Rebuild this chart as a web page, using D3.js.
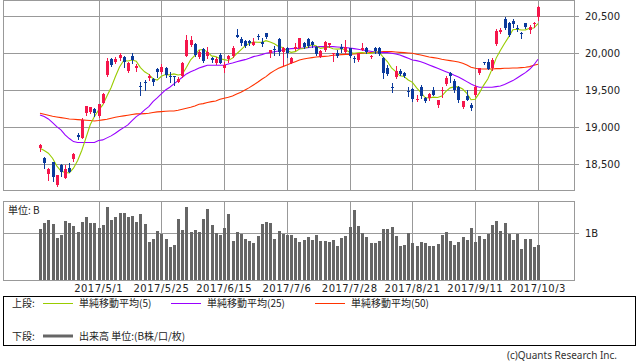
<!DOCTYPE html>
<html>
<head>
<meta charset="utf-8">
<script src="https://cdn.jsdelivr.net/npm/d3@7"></script>
<style>
	body { margin: 0; background: #fff; }
	text { font-family: "DejaVu Sans", "Noto Sans CJK JP", sans-serif; font-size: 10px; fill: #222; }
	.jp { font-family: "Noto Sans CJK JP", sans-serif; }
</style>
</head>
<body>
<svg id="chart" width="638" height="362"></svg>
<script>
// trading days shown, by month
const tradingDays = [
	['4', [11, 12, 13, 14, 17, 18, 19, 20, 21, 24, 25, 26, 27, 28]],
	['5', [1, 2, 8, 9, 10, 11, 12, 15, 16, 17, 18, 19, 22, 23, 24, 25, 26, 29, 30, 31]],
	['6', [1, 2, 5, 6, 7, 8, 9, 12, 13, 14, 15, 16, 19, 20, 21, 22, 23, 26, 27, 28, 29, 30]],
	['7', [3, 4, 5, 6, 7, 10, 11, 12, 13, 14, 18, 19, 20, 21, 24, 25, 26, 27, 28, 31]],
	['8', [1, 2, 3, 4, 7, 8, 9, 10, 14, 15, 16, 17, 18, 21, 22, 23, 24, 25, 28, 29, 30, 31]],
	['9', [1, 4, 5, 6, 7, 8, 11, 12, 13, 14, 15, 19, 20, 21, 22, 25, 26, 27, 28, 29]],
	['10', [2, 3]]
];
const dates = tradingDays.flatMap(([m, days]) => days.map(d => `2017/${m}/${d}`));
const dateTicks = ['2017/5/1', '2017/5/25', '2017/6/15', '2017/7/6', '2017/7/28', '2017/8/21', '2017/9/11', '2017/10/3'];
const priceTicks = [18500, 19000, 19500, 20000, 20500];
const volumeTicks = [1];

const open = [18716,18587,18367,18524,18218,18488,18317,18452,18569,18898, 18857,19186,19195,19244,19141,19330,19699,19915,19879,19937, 19946,19748,19960,19802,19559,19604,19663,19649,19780,19735, 19793,19690,19686,19618,19681,19964,20108,20122,19951,20050, 19960,19928,19861,19973,19793,19915,19960,20243,20189,20167, 20162,20117,20225,20153,20266,20005,20050,20189,20005,20063, 19861,20059,20072,20140,20185,20153,20086,19951,20041,20099, 19982,19996,20086,20018,20063,19933,19897,20041,20072,19942, 20063,20072,19937,19802,19541,19672,19762,19726,19483,19510, 19375,19537,19388,19388,19501,19298,19496,19577,19726,19627, 19537,19276,19424,19298,19433,19726,19874,19883,19793,20122, 20288,20455,20410,20437,20333,20266,20401,20311,20396,20482];
const high = [18765,18601,18452,18530,18353,18497,18488,18511,18655,18925, 19118,19285,19276,19262,19316,19465,19928,19928,19951,19996, 19960,19874,20005,19847,19613,19636,19717,19667,19793,19847, 19816,19748,19690,19681,19883,20243,20230,20131,20041,20063, 20086,19942,19942,20005,19883,19973,20095,20320,20212,20176, 20176,20198,20252,20198,20275,20041,20095,20198,20086,20086, 19942,20131,20207,20153,20198,20167,20095,20041,20167,20140, 20005,20041,20122,20176,20063,19960,20005,20131,20086,19973, 20086,20086,19951,19838,19591,19825,19784,19748,19537,19523, 19433,19568,19411,19456,19537,19366,19537,19690,19748,19645, 19555,19357,19501,19330,19568,19802,19883,19915,19928,20320, 20333,20482,20423,20459,20378,20288,20410,20378,20423,20635];
const low = [18671,18452,18286,18272,18209,18340,18317,18389,18542,18835, 18857,19163,19186,19150,19141,19321,19690,19825,19861,19906, 19816,19740,19861,19757,19433,19501,19636,19568,19681,19726, 19672,19613,19568,19604,19672,19964,20099,19960,19928,19879, 19928,19884,19852,19861,19748,19883,19951,20221,20108,20086, 20108,20108,20185,20095,20207,19942,19973,19973,19838,19942, 19861,20041,20063,20063,20086,20086,19973,19942,20032,20086, 19892,19942,20018,19996,19942,19884,19897,20041,19996,19933, 19996,19973,19658,19703,19478,19658,19703,19672,19424,19357, 19357,19388,19343,19366,19433,19267,19411,19568,19613,19478, 19343,19253,19366,19231,19420,19717,19852,19784,19771,20108, 20266,20324,20234,20356,20302,20207,20333,20275,20356,20446];
const close = [18752,18524,18430,18317,18353,18398,18434,18398,18632,18871, 19096,19285,19267,19186,19307,19447,19892,19834,19915,19973, 19874,19861,19906,19825,19550,19590,19690,19604,19735,19807, 19703,19672,19672,19654,19861,20176,20176,19973,20018,19892, 20018,19906,19919,19870,19838,19960,20063,20221,20131,20099, 20131,20153,20216,20122,20212,20041,20041,20018,20063,19996, 19928,20086,20203,20086,20095,20108,19987,20032,20144,20131, 19996,19960,20054,20086,19951,19928,19996,20072,20018,19960, 20018,19996,19735,19717,19532,19757,19717,19690,19478,19375, 19384,19411,19343,19442,19433,19366,19505,19658,19681,19501, 19366,19357,19366,19253,19537,19793,19865,19793,19906,20297, 20311,20333,20243,20392,20320,20261,20347,20356,20401,20617];
// 出来高 (B)
const volume = [1.09,1.21,1.29,1.19,0.89,0.96,1.26,1.21,1.16,1.02, 1.24,1.34,1.21,1.21,1.11,1.18,1.56,1.29,1.34,1.43, 1.43,1.34,1.37,1.24,1.41,1.19,0.81,0.88,1.05,0.98, 0.88,0.70,0.75,1.31,1.07,1.56,1.02,1.07,1.02,1.30, 1.52,1.18,1.00,0.96,1.11,1.41,0.84,1.02,0.99,0.88, 0.84,0.79,0.94,1.19,1.24,1.21,0.88,1.05,0.98,0.96, 0.96,0.89,0.82,0.86,0.93,0.86,0.96,0.84,0.84,0.81, 0.86,0.73,0.91,0.94,1.13,1.49,1.16,1.00,0.92,0.79, 0.79,0.84,1.09,1.09,1.13,0.94,0.73,0.75,1.00,0.79, 0.73,0.81,0.79,0.73,0.73,0.77,0.96,1.03,0.84,0.75, 0.81,0.92,0.86,1.11,0.82,0.94,0.88,0.98,1.18,1.26, 1.05,1.22,0.99,0.86,0.99,0.66,0.88,0.88,0.71,0.75];
const ma5 = [18714,18682,18646,18578,18475,18404,18386,18380,18443,18547, 18686,18856,19030,19141,19228,19298,19420,19533,19679,19812, 19898,19891,19906,19888,19803,19746,19712,19652,19634,19685, 19708,19704,19718,19702,19712,19807,19908,19968,20041,20047, 20015,19961,19951,19921,19910,19899,19930,19990,20043,20095, 20129,20147,20146,20144,20167,20149,20126,20087,20075,20032, 20009,20018,20055,20060,20080,20116,20096,20062,20073,20080, 20058,20053,20057,20045,20009,19996,20003,20007,19993,19995, 20013,20013,19945,19885,19800,19747,19692,19683,19635,19603, 19529,19468,19398,19391,19403,19399,19418,19481,19529,19542, 19542,19513,19454,19369,19376,19461,19563,19648,19779,19931, 20034,20128,20218,20315,20320,20310,20313,20335,20337,20396];
const ma25 = [19163,19141,19109,19060,19006,18961,18893,18844,18803,18790, 18790,18790,18790,18790,18817,18826,18853,18880,18916,18956, 18992,19028,19087,19141,19177,19231,19276,19343,19393,19447, 19501,19537,19582,19627,19672,19717,19748,19771,19798,19816, 19834,19834,19834,19834,19834,19852,19865,19883,19897,19910, 19928,19951,19964,19978,19996,20005,20018,20027,20041,20050, 20059,20063,20063,20068,20072,20081,20086,20086,20086,20086, 20086,20081,20077,20072,20068,20059,20050,20041,20032,20023, 20014,20009,20005,20005,19996,19987,19973,19951,19928,19906, 19897,19883,19861,19838,19816,19793,19771,19748,19726,19699, 19676,19645,19613,19582,19555,19537,19537,19537,19537,19546, 19555,19573,19600,19627,19663,19699,19735,19780,19838,19915];
const ma50 = [19186,19172,19159,19145,19136,19127,19118,19109,19105,19100, 19096,19091,19087,19082,19087,19096,19105,19118,19132,19141, 19150,19159,19168,19177,19177,19181,19186,19195,19204,19208, 19213,19217,19217,19226,19240,19253,19267,19285,19307,19316, 19330,19343,19352,19375,19388,19402,19420,19447,19469,19501, 19532,19568,19604,19645,19681,19726,19762,19793,19816,19838, 19861,19883,19906,19919,19928,19937,19946,19951,19955,19960, 19969,19973,19978,19982,19982,19987,19991,19996,20000,20005, 20009,20014,20018,20018,20018,20014,20009,20005,20000,19996, 19982,19973,19960,19946,19937,19928,19915,19906,19897,19888, 19879,19861,19838,19807,19793,19784,19784,19784,19784,19789, 19789,19793,19793,19798,19798,19802,19807,19816,19834,19847];
const maNames = ['単純移動平均(5)', '単純移動平均(25)', '単純移動平均(50)'];
const volumeName = '出来高 単位:(B株/口/枚)';

function draw () {
	const svg = d3.select('#chart');
	const left = 3, right = 574;
	const price = { top: 0, bottom: 190 };
	const vol = { top: 201, bottom: 280 };
	const grid = '#999';
	const up = '#f5164b', down = '#0b3a9b';
	const maColors = ['#99cc00', '#9900ff', '#ff3300'];

	const x = d3.scalePoint().domain(dates).range([40, 538]);
	const y = d3.scaleLinear().domain([18500, 20500]).range([164, 16]);
	const yv = d3.scaleLinear().domain([0, 1]).range([vol.bottom, 233.3]);
	const px = d => Math.round(x(d)) + 0.5;
	const py = v => Math.round(v) + 0.5;

	// grids
	const g = svg.append('g').attr('class', 'grid');
	g.selectAll('line.h').data(priceTicks).join('line')
		.attr('x1', left).attr('x2', right + 5)
		.attr('y1', d => py(y(d))).attr('y2', d => py(y(d)))
		.style('stroke', grid);
	g.selectAll('line.hv').data(volumeTicks).join('line')
		.attr('x1', left).attr('x2', right + 5)
		.attr('y1', d => py(yv(d))).attr('y2', d => py(yv(d)))
		.style('stroke', grid);
	[price, vol].forEach(p => {
		g.append('g').selectAll('line').data(dateTicks).join('line')
			.attr('x1', px).attr('x2', px)
			.attr('y1', p.top).attr('y2', p.bottom)
			.style('stroke', grid);
		g.append('rect')
			.attr('x', left + 0.5).attr('y', p.top + 0.5)
			.attr('width', right - left).attr('height', p.bottom - p.top)
			.style('fill', 'none').style('stroke', grid);
	});

	// labels
	svg.append('g').selectAll('text').data(priceTicks).join('text')
		.attr('x', 585).attr('y', d => y(d)).attr('dy', '0.35em')
		.text(d3.format(','));
	svg.append('g').selectAll('text').data(volumeTicks).join('text')
		.attr('x', 585).attr('y', d => yv(d)).attr('dy', '0.35em')
		.text(d => `${d}B`);
	svg.append('g').selectAll('text').data(dateTicks).join('text')
		.attr('x', d => x(d)).attr('y', 292)
		.attr('text-anchor', 'middle')
		.style('letter-spacing', '0.5px')
		.text(d => d);
	svg.append('text').attr('class', 'jp').attr('x', 8).attr('y', 214).text('単位: B');

	// moving averages
	const line = d3.line().x((d, i) => x(dates[i])).y(d => y(d));
	svg.append('g').selectAll('path').data([ma50, ma25, ma5]).join('path')
		.attr('d', line)
		.style('fill', 'none')
		.style('stroke', (d, i) => maColors[2 - i])
		.style('stroke-width', 1.1);

	// candles
	const candles = svg.append('g').selectAll('g').data(dates).join('g')
		.style('color', (d, i) => close[i] >= open[i] ? up : down);
	candles.append('line')
		.attr('x1', px).attr('x2', px)
		.attr('y1', (d, i) => Math.round(y(high[i]))).attr('y2', (d, i) => Math.round(y(low[i])) + 1)
		.style('stroke', 'currentColor');
	candles.append('rect')
		.attr('x', d => Math.round(x(d)) - 1).attr('width', 3)
		.attr('y', (d, i) => Math.round(y(Math.max(open[i], close[i]))))
		.attr('height', (d, i) => Math.max(1, Math.round(Math.abs(y(open[i]) - y(close[i])))))
		.style('fill', 'currentColor');

	// volume
	svg.append('g').selectAll('rect').data(volume).join('rect')
		.attr('x', (d, i) => Math.round(x(dates[i])) - 1).attr('width', 3)
		.attr('y', d => Math.round(yv(d)))
		.attr('height', d => vol.bottom - Math.round(yv(d)))
		.style('fill', '#666');

	// legend
	const lg = svg.append('g');
	lg.append('rect')
		.attr('x', 3.5).attr('y', 296.5).attr('width', 632).attr('height', 49)
		.style('fill', 'none').style('stroke', '#000');
	lg.append('text').attr('class', 'jp').attr('x', 12).attr('y', 307).text('上段:');
	lg.append('text').attr('class', 'jp').attr('x', 12).attr('y', 340).text('下段:');
	const itemX = [43, 171, 315];
	const items = lg.selectAll('g.item').data(maNames).join('g')
		.attr('transform', (d, i) => `translate(${itemX[i]},303)`);
	items.append('line').attr('x1', 0).attr('x2', 30).attr('y1', 0.5).attr('y2', 0.5)
		.style('stroke', (d, i) => maColors[i]);
	items.append('text').attr('class', 'jp').attr('x', 36).attr('y', 4).text(d => d);
	lg.append('line').attr('x1', 43).attr('x2', 73).attr('y1', 336).attr('y2', 336)
		.style('stroke', '#666').style('stroke-width', 3);
	lg.append('text').attr('class', 'jp').attr('x', 79).attr('y', 340).text(volumeName);

	svg.append('text')
		.attr('x', 617).attr('y', 359).attr('text-anchor', 'end')
		.style('font-family', '"Noto Sans", sans-serif').style('fill', '#333')
		.text('(c)Quants Research Inc.');
}

if (document.readyState === 'loading') {
	document.addEventListener('DOMContentLoaded', draw);
} else {
	draw();
}
</script>
</body>
</html>
